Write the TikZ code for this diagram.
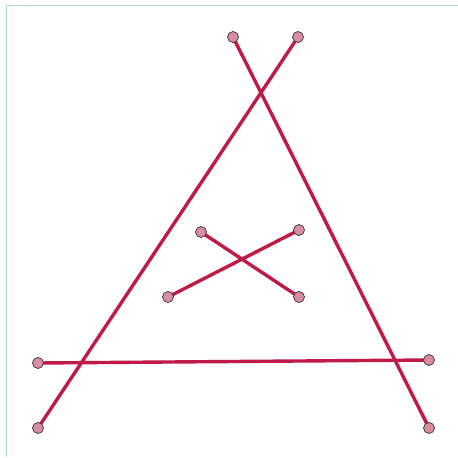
\documentclass[tikz,border=0pt]{standalone}
\definecolor{seg}{HTML}{C01A48}
\definecolor{dotfill}{HTML}{DA8CA2}
\definecolor{frame}{HTML}{A6D6EE}
\begin{document}
\begin{tikzpicture}[x=1pt,y=-1pt,
  pt/.style={circle,draw=black!80,fill=dotfill,line width=0.7pt,minimum size=11pt,inner sep=0pt},
  segline/.style={draw=seg,line width=3.4pt}]
\useasboundingbox (0,0) rectangle (458,458);
\draw[frame,line width=1.3pt] (6.5,457) -- (6.5,5.5) -- (458,5.5);
\coordinate (a1) at (233,37);
\coordinate (b1) at (429,428);
\coordinate (a2) at (298,37);
\coordinate (b2) at (38,428);
\coordinate (c1) at (38,363);
\coordinate (c2) at (429,360);
\coordinate (d1) at (201,232);
\coordinate (d2) at (299,297);
\coordinate (e1) at (168,297);
\coordinate (e2) at (299,230);
\draw[segline] (a1) -- (b1);
\draw[segline] (a2) -- (b2);
\draw[segline] (c1) -- (c2);
\draw[segline] (d1) -- (d2);
\draw[segline] (e1) -- (e2);
\foreach \p in {a1,b1,a2,b2,c1,c2,d1,d2,e1,e2}
  \node[pt] (n\p) at (\p) {};
\end{tikzpicture}
\end{document}
